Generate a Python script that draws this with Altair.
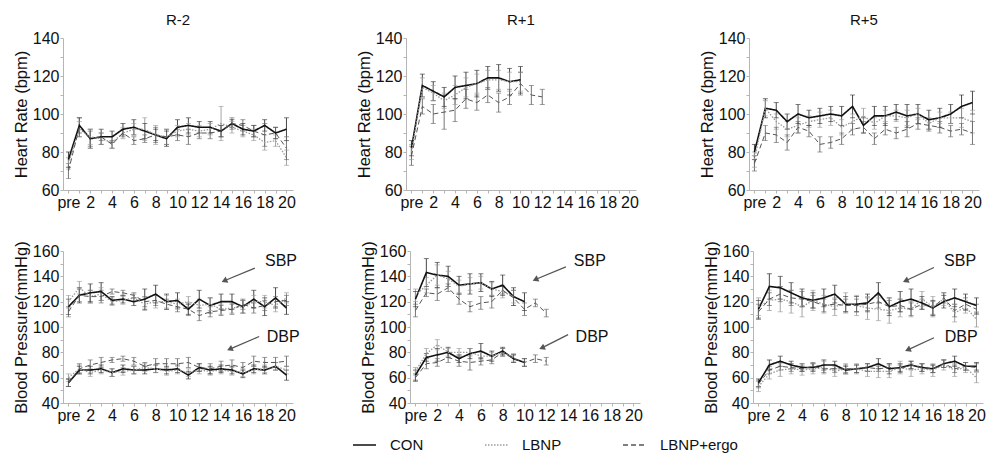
import altair as alt
import pandas as pd

sessions = ["R-2", "R+1", "R+5"]
series_names = ["CON", "LBNP", "LBNP+ergo"]
series_colors = ["#111111", "#9a9a9a", "#555555"]
err_colors = ["#333333", "#9a9a9a", "#666666"]

# ---------------- Heart rate (bpm) ----------------
hr_r2_con = [76, 94, 87, 88, 88, 92, 93, 91, 89, 87, 93, 94, 93, 93, 91, 95, 92, 91, 94, 90, 92]
hr_r2_lbnp = [74, 92, 88, 87, 85, 90, 92, 92, 89, 88, 91, 92, 91, 92, 95, 93, 91, 89, 85, 86, 77]
hr_r2_ergo = [70, 93, 87, 88, 84, 90, 86, 87, 89, 88, 89, 88, 90, 90, 91, 95, 94, 91, 89, 90, 82]
hr_r2_con_err = [4, 4, 5, 4, 3, 3, 4, 4, 3, 4, 4, 4, 3, 3, 3, 2, 3, 3, 3, 3, 6]
hr_r2_lbnp_err = [3, 4, 4, 3, 3, 3, 3, 6, 5, 4, 3, 3, 3, 3, 9, 3, 3, 3, 4, 3, 4]
hr_r2_ergo_err = [4, 5, 4, 2, 2, 2, 2, 2, 4, 4, 3, 4, 3, 3, 3, 3, 3, 3, 6, 3, 6]

hr_r1_con = [82, 115, 112, 109, 114, 115, 116, 119, 119, 117, 118]
hr_r1_lbnp = [80, 114, 111, 107, 110, 114, 116, 118, 118, 117, 117]
hr_r1_ergo = [78, 104, 100, 101, 102, 108, 106, 110, 106, 109, 116, 110, 109]
hr_r1_con_err = [4, 6, 5, 5, 6, 7, 7, 6, 7, 7, 7]
hr_r1_lbnp_err = [4, 5, 4, 4, 5, 5, 5, 5, 5, 5, 5]
hr_r1_ergo_err = [5, 4, 5, 9, 6, 5, 4, 4, 5, 4, 6, 5, 4]

hr_r5_con = [80, 103, 102, 96, 100, 98, 99, 100, 99, 104, 94, 99, 99, 101, 99, 100, 97, 98, 100, 104, 106]
hr_r5_lbnp = [76, 103, 96, 92, 94, 96, 97, 98, 93, 96, 99, 95, 99, 99, 98, 100, 95, 98, 98, 98, 96]
hr_r5_ergo = [74, 90, 89, 85, 93, 91, 84, 85, 87, 92, 93, 87, 92, 90, 92, 95, 94, 93, 91, 92, 90]
hr_r5_con_err = [4, 5, 4, 4, 5, 4, 4, 4, 5, 6, 4, 5, 5, 4, 6, 5, 5, 5, 5, 6, 6]
hr_r5_lbnp_err = [4, 4, 4, 4, 4, 3, 4, 4, 4, 4, 4, 3, 3, 3, 4, 3, 3, 3, 3, 5, 6]
hr_r5_ergo_err = [4, 4, 4, 4, 3, 3, 4, 3, 3, 3, 3, 3, 3, 3, 4, 3, 3, 3, 3, 3, 6]

# ---------------- Blood pressure (mmHg) ----------------
sbp_r2_con = [116, 125, 127, 128, 121, 122, 120, 122, 126, 120, 121, 114, 122, 117, 120, 120, 116, 122, 116, 123, 115]
sbp_r2_lbnp = [120, 131, 124, 126, 120, 121, 123, 118, 120, 120, 118, 120, 117, 118, 114, 115, 116, 120, 120, 117, 123]
sbp_r2_ergo = [112, 125, 124, 124, 128, 127, 125, 120, 121, 118, 116, 114, 109, 112, 113, 114, 118, 115, 117, 120, 121]
dbp_r2_con = [56, 66, 66, 67, 64, 67, 66, 66, 67, 66, 67, 62, 68, 66, 67, 66, 63, 67, 66, 69, 62]
dbp_r2_lbnp = [60, 67, 64, 66, 64, 65, 66, 68, 67, 65, 66, 64, 66, 65, 66, 65, 64, 66, 67, 69, 66]
dbp_r2_ergo = [56, 67, 70, 72, 74, 75, 73, 69, 71, 71, 71, 72, 68, 67, 69, 70, 68, 73, 72, 72, 73]
sbp_r2_con_err = [6, 6, 7, 7, 3, 3, 3, 8, 7, 6, 6, 4, 7, 6, 6, 6, 5, 7, 7, 8, 5]
sbp_r2_lbnp_err = [5, 5, 5, 5, 3, 3, 3, 5, 5, 5, 4, 4, 5, 5, 4, 4, 5, 5, 5, 5, 4]
sbp_r2_ergo_err = [4, 5, 5, 5, 2, 2, 2, 4, 4, 4, 4, 5, 4, 4, 4, 4, 4, 4, 4, 4, 4]
dbp_r2_con_err = [3, 3, 3, 3, 3, 3, 3, 3, 3, 3, 3, 3, 3, 3, 3, 3, 3, 3, 3, 3, 4]
dbp_r2_lbnp_err = [3, 3, 3, 3, 3, 3, 3, 3, 3, 3, 3, 3, 3, 3, 3, 3, 3, 3, 3, 3, 3]
dbp_r2_ergo_err = [3, 4, 4, 4, 2, 2, 3, 3, 4, 4, 4, 4, 3, 4, 4, 4, 4, 4, 4, 4, 4]

sbp_r1_con = [122, 143, 141, 140, 133, 134, 135, 130, 133, 124, 120]
sbp_r1_lbnp = [125, 133, 141, 138, 132, 134, 135, 130, 128, 124]
sbp_r1_ergo = [113, 127, 126, 131, 122, 116, 119, 120, 129, 123, 114, 119, 111]
dbp_r1_con = [62, 76, 78, 80, 75, 79, 81, 77, 81, 75, 72]
dbp_r1_lbnp = [65, 79, 86, 80, 80, 80, 77, 77, 80, 76]
dbp_r1_ergo = [60, 71, 72, 76, 73, 72, 73, 74, 80, 75, 72, 75, 73]
sbp_r1_con_err = [6, 11, 10, 8, 7, 8, 7, 6, 8, 7, 7]
sbp_r1_lbnp_err = [5, 6, 8, 6, 5, 5, 5, 5, 5, 5]
sbp_r1_ergo_err = [5, 3, 5, 3, 4, 4, 5, 5, 3, 6, 5, 3, 3]
dbp_r1_con_err = [4, 3, 5, 4, 3, 4, 6, 4, 3, 3, 3]
dbp_r1_lbnp_err = [3, 4, 4, 3, 3, 3, 3, 3, 3, 3]
dbp_r1_ergo_err = [3, 4, 3, 4, 4, 6, 3, 3, 3, 3, 3, 3, 3]

sbp_r5_con = [114, 132, 131, 127, 123, 121, 123, 126, 118, 118, 119, 127, 116, 120, 122, 119, 115, 120, 123, 120, 117]
sbp_r5_lbnp = [116, 121, 122, 120, 116, 121, 118, 116, 119, 117, 115, 114, 113, 115, 114, 122, 116, 122, 111, 116, 106]
sbp_r5_ergo = [112, 122, 126, 123, 122, 120, 117, 118, 117, 117, 118, 120, 116, 117, 114, 118, 115, 123, 113, 118, 114]
dbp_r5_con = [56, 70, 73, 70, 68, 68, 70, 70, 66, 67, 68, 71, 67, 68, 70, 68, 67, 71, 73, 69, 69]
dbp_r5_lbnp = [53, 63, 66, 67, 66, 67, 68, 65, 67, 67, 65, 65, 65, 68, 66, 67, 66, 70, 66, 68, 60]
dbp_r5_ergo = [55, 66, 69, 68, 67, 69, 67, 67, 67, 67, 68, 67, 68, 67, 70, 68, 67, 71, 67, 69, 68]
sbp_r5_con_err = [7, 10, 9, 8, 7, 6, 7, 7, 6, 6, 7, 8, 7, 8, 8, 5, 6, 5, 7, 6, 6]
sbp_r5_lbnp_err = [7, 8, 10, 9, 8, 8, 7, 7, 8, 8, 9, 9, 10, 7, 6, 6, 8, 5, 7, 5, 6]
sbp_r5_ergo_err = [6, 5, 6, 6, 6, 5, 5, 4, 5, 5, 5, 5, 5, 5, 5, 4, 5, 4, 5, 5, 4]
dbp_r5_con_err = [3, 4, 4, 3, 3, 3, 4, 3, 3, 3, 3, 4, 4, 3, 3, 3, 3, 3, 4, 3, 3]
dbp_r5_lbnp_err = [4, 4, 5, 4, 4, 4, 5, 4, 4, 4, 4, 5, 5, 5, 5, 4, 5, 4, 5, 4, 4]
dbp_r5_ergo_err = [3, 3, 3, 3, 2, 3, 3, 3, 3, 3, 3, 2, 3, 3, 3, 3, 3, 3, 3, 3, 3]

# Annotation positions (data units) for SBP / DBP labels and arrows
ann_session = ["R-2", "R+1", "R+5"]
sbp_arrow = [(17.1, 146.5, 14.3, 136.5), (13.8, 147.5, 11.0, 137.5), (16.1, 147.0, 13.5, 136.5)]
dbp_arrow = [(17.5, 92.5, 14.8, 82.5), (14.0, 94.0, 11.6, 83.5), (16.1, 91.5, 13.7, 82.0)]
sbp_text = [(19.5, 152), (16.0, 152), (18.5, 152)]
dbp_text = [(19.7, 92.5), (16.2, 92.5), (18.6, 92.5)]

# Legend layout (pixel offset of each legend entry, from the left plot edge)
legend_x = [290, 422, 560]

hr_data = {
    "R-2": [(hr_r2_con, hr_r2_con_err), (hr_r2_lbnp, hr_r2_lbnp_err), (hr_r2_ergo, hr_r2_ergo_err)],
    "R+1": [(hr_r1_con, hr_r1_con_err), (hr_r1_lbnp, hr_r1_lbnp_err), (hr_r1_ergo, hr_r1_ergo_err)],
    "R+5": [(hr_r5_con, hr_r5_con_err), (hr_r5_lbnp, hr_r5_lbnp_err), (hr_r5_ergo, hr_r5_ergo_err)],
}
bp_data = {
    "R-2": [
        [(sbp_r2_con, sbp_r2_con_err), (sbp_r2_lbnp, sbp_r2_lbnp_err), (sbp_r2_ergo, sbp_r2_ergo_err)],
        [(dbp_r2_con, dbp_r2_con_err), (dbp_r2_lbnp, dbp_r2_lbnp_err), (dbp_r2_ergo, dbp_r2_ergo_err)],
    ],
    "R+1": [
        [(sbp_r1_con, sbp_r1_con_err), (sbp_r1_lbnp, sbp_r1_lbnp_err), (sbp_r1_ergo, sbp_r1_ergo_err)],
        [(dbp_r1_con, dbp_r1_con_err), (dbp_r1_lbnp, dbp_r1_lbnp_err), (dbp_r1_ergo, dbp_r1_ergo_err)],
    ],
    "R+5": [
        [(sbp_r5_con, sbp_r5_con_err), (sbp_r5_lbnp, sbp_r5_lbnp_err), (sbp_r5_ergo, sbp_r5_ergo_err)],
        [(dbp_r5_con, dbp_r5_con_err), (dbp_r5_lbnp, dbp_r5_lbnp_err), (dbp_r5_ergo, dbp_r5_ergo_err)],
    ],
}

rows = []
for s in sessions:
    for k, (vals, errs) in enumerate(hr_data[s]):
        for i, (v, e) in enumerate(zip(vals, errs)):
            rows.append(dict(panel="HR", session=s, series=series_names[k], grp=series_names[k],
                             x=i, mean=v, lo=v - e, hi=v + e))
    for m, part in zip(["SBP", "DBP"], bp_data[s]):
        for k, (vals, errs) in enumerate(part):
            for i, (v, e) in enumerate(zip(vals, errs)):
                rows.append(dict(panel="BP", session=s, series=series_names[k], grp=m + series_names[k],
                                 x=i, mean=v, lo=v - e, hi=v + e))
df = pd.DataFrame(rows)

ann_rows = []
for j, s in enumerate(ann_session):
    for lab, arr, txt in (("SBP", sbp_arrow[j], sbp_text[j]), ("DBP", dbp_arrow[j], dbp_text[j])):
        ann_rows.append(dict(session=s, label=lab, ax=arr[0], ay=arr[1], ax2=arr[2], ay2=arr[3],
                             tx=txt[0], ty=txt[1]))
ann = pd.DataFrame(ann_rows)

leg = pd.DataFrame(dict(series=series_names, lx=legend_x,
                        lx2=[v + 23 for v in legend_x], tx=[v + 37 for v in legend_x]))

FONT = "Liberation Sans"
W, H = 230, 152

color_scale = alt.Scale(domain=series_names, range=series_colors)
err_scale = alt.Scale(domain=series_names, range=err_colors)
dash_scale = alt.Scale(domain=series_names, range=[[1, 0], [1.5, 1.5], [5, 3]])
width_scale = alt.Scale(domain=series_names, range=[1.6, 1.0, 1.1])
no_view = alt.ViewBackground(stroke="transparent", strokeWidth=0, fill="transparent")


def make_panel(panel, session, show_title):
    d = df[(df.panel == panel) & (df.session == session)]
    ydom = [60, 140] if panel == "HR" else [40, 160]
    ytitle = "Heart Rate (bpm)" if panel == "HR" else "Blood Pressure(mmHg)"
    xscale = alt.Scale(domain=[-0.5, 20.6], nice=False, zero=False)
    yscale = alt.Scale(domain=ydom, nice=False, zero=False)
    xaxis = alt.Axis(values=list(range(0, 21)),
                     labelExpr="datum.value == 0 ? 'pre' : (datum.value % 2 == 0 ? datum.label : '')",
                     tickSize=3, tickColor="#b5b5b5", grid=False, title=None, domainColor="#b5b5b5",
                     labelFontSize=16, labelFont=FONT, labelColor="#111", labelPadding=1,
                     labelOverlap=False, labelFlush=False)
    yaxis = alt.Axis(values=list(range(ydom[0], ydom[1] + 1, 10)),
                     labelExpr="datum.value % 20 == 0 ? datum.label : ''",
                     title=ytitle, grid=False, tickSize=3, tickColor="#b5b5b5", domainColor="#b5b5b5",
                     labelFontSize=16, labelFont=FONT, labelColor="#111", labelOverlap=False,
                     titleFont=FONT, titleFontSize=16.5, titleFontWeight="normal", titleColor="#111",
                     titlePadding=3, labelPadding=1)
    base = alt.Chart(d)
    x = alt.X("x:Q", scale=xscale, axis=xaxis)
    rules = base.mark_rule(strokeWidth=0.9).encode(
        x=x, y=alt.Y("lo:Q", scale=yscale, axis=yaxis), y2="hi:Q",
        stroke=alt.Stroke("series:N", scale=err_scale, legend=None))
    caps_hi = base.mark_tick(orient="horizontal", size=5, thickness=0.9).encode(
        x=x, y=alt.Y("hi:Q", scale=yscale, axis=yaxis),
        fill=alt.Fill("series:N", scale=err_scale, legend=None))
    caps_lo = base.mark_tick(orient="horizontal", size=5, thickness=0.9).encode(
        x=x, y=alt.Y("lo:Q", scale=yscale, axis=yaxis),
        fill=alt.Fill("series:N", scale=err_scale, legend=None))
    lines = base.mark_line().encode(
        x=x, y=alt.Y("mean:Q", scale=yscale, axis=yaxis),
        color=alt.Color("series:N", scale=color_scale, legend=None),
        strokeDash=alt.StrokeDash("series:N", scale=dash_scale, legend=None),
        strokeWidth=alt.StrokeWidth("series:N", scale=width_scale, legend=None),
        detail="grp:N", order="x:Q")
    layers = [rules, caps_hi, caps_lo, lines]
    if panel == "BP":
        a = alt.Chart(ann[ann.session == session])
        arrow = a.mark_rule(color="#555", strokeWidth=1.3).encode(
            x=alt.X("ax:Q", scale=xscale, axis=xaxis), y=alt.Y("ay:Q", scale=yscale, axis=yaxis),
            x2="ax2:Q", y2="ay2:Q")
        head = a.mark_point(shape="triangle-right", filled=True, size=45, color="#555", angle=156,
                            opacity=1).encode(
            x=alt.X("ax2:Q", scale=xscale, axis=xaxis), y=alt.Y("ay2:Q", scale=yscale, axis=yaxis))
        txt = a.mark_text(fontSize=16, font=FONT, color="#111").encode(
            x=alt.X("tx:Q", scale=xscale, axis=xaxis), y=alt.Y("ty:Q", scale=yscale, axis=yaxis),
            text="label:N")
        layers += [arrow, head, txt]
    ch = alt.layer(*layers).properties(width=W, height=H, view=no_view)
    if show_title:
        ch = ch.properties(title=alt.TitleParams(session, font=FONT, fontSize=15, fontWeight="normal",
                                                 color="#111", offset=2))
    return ch


LW = 680
lscale = alt.Scale(domain=[0, LW], range=[0, LW], nice=False, zero=False)
lbase = alt.Chart(leg)
leg_lines = lbase.mark_rule(strokeWidth=1.3).encode(
    x=alt.X("lx:Q", scale=lscale, axis=None), x2="lx2:Q", y=alt.value(10),
    color=alt.Color("series:N", scale=color_scale, legend=None),
    strokeDash=alt.StrokeDash("series:N", scale=dash_scale, legend=None))
leg_text = lbase.mark_text(align="left", baseline="middle", fontSize=15, font=FONT, color="#111").encode(
    x=alt.X("tx:Q", scale=lscale, axis=None), y=alt.value(10), text="series:N")
legend_chart = alt.layer(leg_lines, leg_text).properties(width=LW, height=20, view=no_view)

top = alt.hconcat(*[make_panel("HR", s, True) for s in sessions], spacing=60)
bottom = alt.hconcat(*[make_panel("BP", s, False) for s in sessions], spacing=60)
grid = alt.vconcat(top, bottom, spacing=30)
chart = alt.vconcat(grid, legend_chart, spacing=12).resolve_scale(
    color="independent", strokeDash="independent").configure_view(
    stroke="transparent", strokeWidth=0).configure(background="white", font=FONT)

chart.save("out.html", embed_options={"renderer": "svg", "actions": False})
